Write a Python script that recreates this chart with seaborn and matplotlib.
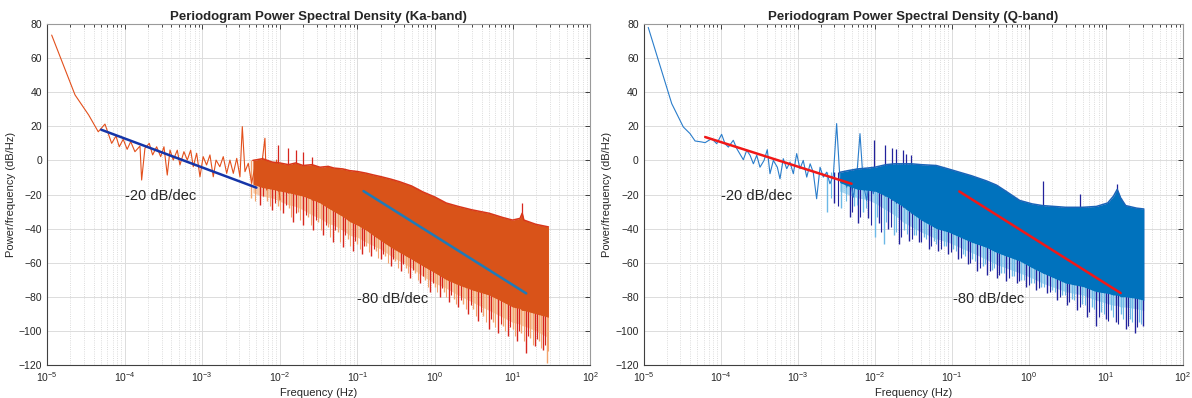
import numpy as np
import seaborn as sns
import matplotlib.pyplot as plt
from matplotlib.ticker import LogLocator, MultipleLocator, NullFormatter

# ---- Ka-band: low-frequency periodogram bins ----
ka_lf_freq = [1.15e-5, 2.3e-5, 3.45e-5, 4.58e-5, 5.59e-5, 6.82e-5, 7.75e-5, 8.55e-5, 9.6e-5,
              1.08e-4, 1.2e-4, 1.36e-4, 1.58e-4, 1.66e-4, 1.83e-4, 2.08e-4, 2.30e-4, 2.59e-4,
              2.92e-4, 3.22e-4, 3.55e-4, 3.85e-4, 4.24e-4, 4.78e-4, 5.17e-4, 5.82e-4, 6.43e-4,
              7.11e-4, 7.68e-4, 8.49e-4, 9.37e-4, 1.03e-3, 1.14e-3, 1.26e-3, 1.39e-3, 1.51e-3,
              1.69e-3, 1.87e-3, 2.07e-3, 2.28e-3, 2.52e-3, 2.79e-3, 3.07e-3, 3.29e-3, 3.56e-3,
              3.93e-3, 4.34e-3, 4.79e-3, 5.28e-3, 5.85e-3, 6.44e-3, 6.78e-3, 7.48e-3, 8.24e-3,
              9.12e-3, 1.006e-2]
ka_lf_psd = [73.5, 38.4, 26.6, 16.8, 21.3, 10.0, 14.3, 8.0, 12.4,
             6.5, 11.0, 5.1, 8.4, -11.5, 7.1, 10.0, 3.2, 8.0,
             2.2, 8.0, -8.6, 6.1, 0.2, 6.0, -2.7, 5.1, 0.2,
             6.0, -3.7, 4.2, -9.6, 2.2, -2.7, 3.2, -9.6, 0.2,
             -3.7, 2.2, -7.6, 0.2, -7.6, 1.2, -9.6, 19.8, -6.6,
             -1.7, -13.4, -3.7, -11.5, -2.7, 13.0, -17.4, -3.7, -15.4,
             0.2, -23.2]

# Ka-band dense part: top / bottom of the solid band, and the edge of the spiky fringe below it
ka_env_freq = [4.5e-3, 6e-3, 8e-3, 1e-2, 1.3e-2, 1.6e-2, 2e-2, 2.6e-2, 3.3e-2, 4.2e-2, 5e-2,
               6.5e-2, 8e-2, 0.1, 0.13, 0.16, 0.2, 0.27, 0.35, 0.5, 0.7, 1, 1.4, 2, 3, 5,
               7.5, 10, 12.5, 13.3, 14, 20, 29]
ka_env_upper = [0, 1, -1, -1.5, -2.5, -1.5, -3, -2.5, -4, -3.5, -4.5,
                -5, -6, -6.5, -7.5, -8.5, -9.5, -11, -12.5, -15, -18.5, -21.5, -25, -27, -29, -31,
                -33.5, -35, -34, -31, -35, -37.5, -39]
ka_env_lower = [-14, -16, -17, -18, -19, -20, -21, -23, -25, -28, -30,
                -33, -36, -38, -41, -44, -47, -51, -54, -58, -62, -66, -70, -73, -76, -79,
                -83, -86, -87, -88, -88, -90, -92]
ka_fringe = [-19, -21, -22, -24, -26, -27, -29, -32, -34, -37, -38,
             -41, -44, -45, -48, -50, -52, -56, -59, -63, -68, -72, -75, -79, -83, -88,
             -92, -95, -96, -97, -97, -100, -104]

# Ka-band downward spikes below the band (two interleaved sets)
ka_dip_freq = [4.2e-3, 5.5e-3, 6.8e-3, 8.0e-3, 9.5e-3, 1.1e-2, 1.3e-2, 1.5e-2, 1.7e-2, 2.0e-2,
               2.3e-2, 2.7e-2, 3.1e-2, 3.6e-2, 4.2e-2, 4.8e-2, 5.6e-2, 6.5e-2, 7.5e-2, 8.7e-2,
               0.1, 0.115, 0.13, 0.15, 0.175, 0.2, 0.23, 0.27, 0.31, 0.36,
               0.42, 0.48, 0.55, 0.65, 0.75, 0.87, 1.0, 1.15, 1.3, 1.5,
               1.75, 2.0, 2.3, 2.7, 3.1, 3.6, 4.2, 4.9, 5.6, 6.5,
               7.5, 8.7, 10, 11.5, 13, 15, 17, 19.5, 22, 25, 27.5]
ka_dip_psd = [-22, -26, -24, -29, -27, -31, -28, -36, -30, -38,
              -33, -41, -36, -44, -39, -48, -42, -51, -46, -53,
              -49, -55, -50, -56, -53, -58, -56, -62, -59, -65,
              -63, -69, -66, -72, -70, -77, -74, -80, -77, -83,
              -81, -86, -84, -90, -87, -94, -91, -99, -95, -101,
              -97, -103, -99, -106, -101, -113, -104, -109, -106, -111, -119]
ka_dip2_freq = [4.8e-3, 6.1e-3, 7.4e-3, 8.7e-3, 1.02e-2, 1.2e-2, 1.4e-2, 1.6e-2, 1.85e-2, 2.15e-2,
                2.5e-2, 2.9e-2, 3.35e-2, 3.9e-2, 4.5e-2, 5.2e-2, 6.0e-2, 7.0e-2, 8.1e-2, 9.3e-2,
                0.107, 0.122, 0.14, 0.162, 0.187, 0.215, 0.25, 0.29, 0.335, 0.39,
                0.45, 0.515, 0.6, 0.7, 0.81, 0.93, 1.07, 1.22, 1.4, 1.62,
                1.87, 2.15, 2.5, 2.9, 3.35, 3.9, 4.5, 5.25, 6.0, 7.0,
                8.1, 9.3, 10.7, 12.2, 14, 16, 18.2, 20.7, 23.5, 26, 28.5]
ka_dip2_psd = [-24, -21, -27, -25, -29, -26, -33, -31, -35, -32,
               -38, -35, -41, -38, -45, -41, -48, -44, -50, -47,
               -52, -50, -54, -52, -57, -55, -60, -58, -63, -61,
               -66, -64, -70, -68, -74, -72, -77, -75, -80, -79,
               -84, -82, -87, -85, -91, -89, -95, -93, -98, -96,
               -100, -98, -103, -100, -106, -103, -108, -105, -110, -108, -112]

# Ka-band upward spikes above the band
ka_peak_freq = [9.6e-3, 1.28e-2, 1.61e-2, 2.01e-2, 2.58e-2, 13.3]
ka_peak_psd = [9.0, 7.1, 6.1, 5.1, 2.2, -25]

# ---- Q-band ----
q_lf_freq = [1.15e-5, 2.32e-5, 3.28e-5, 4.01e-5, 4.66e-5, 5.69e-5, 6.28e-5, 7.67e-5, 8.9e-5,
             1.03e-4, 1.14e-4, 1.26e-4, 1.46e-4, 1.62e-4, 1.97e-4, 2.18e-4, 2.41e-4, 2.66e-4,
             2.94e-4, 3.24e-4, 3.66e-4, 4.03e-4, 4.37e-4, 4.83e-4, 5.44e-4, 5.89e-4, 6.5e-4,
             7.2e-4, 7.94e-4, 8.77e-4, 9.7e-4, 1.07e-3, 1.18e-3, 1.31e-3, 1.45e-3, 1.59e-3,
             1.76e-3, 1.95e-3, 2.15e-3, 2.38e-3, 2.62e-3, 2.9e-3, 3.2e-3, 3.54e-3, 3.9e-3,
             4.32e-3, 4.77e-3, 5.26e-3, 5.82e-3, 6.43e-3, 7.1e-3, 7.85e-3, 8.67e-3, 9.57e-3,
             1.06e-2]
q_lf_psd = [78, 33.3, 19.6, 15.7, 11.4, 10.8, 10.4, 12.8, 9.8,
            15.3, 9.8, 7.8, 11.8, 6.9, 0.4, 5.9, 3.0, -2.0,
            3.0, -4.0, 0.0, 6.3, -7.8, 0.0, -4.0, -10.8, 1.0,
            -4.9, -1.0, -7.8, 4.0, -4.9, 0.0, -9.8, -2.0, -6.9,
            -22.5, -4.0, -9.8, -6.9, -13.7, -8.8, 21.6, -11.8, -7.8,
            -15.7, -9.8, -21.6, -9.8, 15.7, -13.7, -23.5, -9.8, -19.6,
            -7.8]

q_env_freq = [3.5e-3, 4.5e-3, 6e-3, 8e-3, 1e-2, 1.4e-2, 1.8e-2, 2.3e-2, 3e-2, 4e-2, 6.3e-2,
              9e-2, 0.127, 0.18, 0.28, 0.38, 0.5, 0.76, 1.1, 1.5, 3, 5, 7.5, 10.5, 12.5,
              14, 15.5, 18, 25, 31]
q_env_upper = [-7, -6, -5, -4.5, -4, -2.5, -2, -2, -2, -2.5, -3,
               -5, -7, -9, -12, -14.5, -18, -23.5, -25.5, -26.5, -27.5, -27.5, -27, -25, -21,
               -17, -22, -26.5, -28, -28.5]
q_env_lower = [-13, -15, -17, -17.5, -18, -21, -24, -27, -31, -35, -40,
               -42, -45, -48, -51, -54, -56, -59, -63, -66, -72, -74, -77, -78, -79,
               -79, -80, -80, -81, -82]
q_fringe = [-18, -20, -22, -23, -25, -29, -32, -36, -39, -42, -46,
            -48, -51, -54, -58, -61, -63, -66, -69, -72, -77, -79, -82, -84, -85,
            -85, -86, -86, -87, -88]

q_dip_freq = [2.4e-3, 3.0e-3, 3.7e-3, 4.7e-3, 5.4e-3, 6.1e-3, 7.0e-3, 8.2e-3, 1.01e-2, 1.15e-2,
              1.3e-2, 1.5e-2, 1.75e-2, 2.05e-2, 2.4e-2, 2.8e-2, 3.2e-2, 3.7e-2, 4.3e-2, 5.0e-2,
              5.8e-2, 6.7e-2, 7.8e-2, 9.0e-2, 0.105, 0.12, 0.14, 0.16, 0.185, 0.215,
              0.25, 0.29, 0.33, 0.38, 0.44, 0.51, 0.6, 0.7, 0.8, 0.93,
              1.08, 1.25, 1.45, 1.7, 2.0, 2.3, 2.7, 3.1, 3.6, 4.2,
              4.9, 5.7, 6.6, 7.5, 8.7, 10, 11.5, 13.3, 15.5, 18,
              20.5, 23.7, 27, 30]
q_dip_psd = [-30, -25, -28, -33, -27, -37, -30, -34, -45, -37,
             -49, -40, -44, -49, -41, -47, -44, -48, -45, -52,
             -47, -53, -50, -55, -52, -58, -55, -61, -58, -65,
             -62, -67, -64, -69, -66, -71, -68, -72, -70, -74,
             -72, -76, -74, -78, -76, -82, -79, -85, -81, -88,
             -84, -92, -86, -97, -89, -93, -88, -95, -90, -99,
             -93, -101, -95, -97]
q_dip2_freq = [2.7e-3, 3.3e-3, 4.2e-3, 5.0e-3, 5.8e-3, 6.5e-3, 7.6e-3, 9.0e-3, 1.08e-2, 1.22e-2,
               1.4e-2, 1.62e-2, 1.9e-2, 2.2e-2, 2.6e-2, 3.0e-2, 3.45e-2, 4.0e-2, 4.65e-2, 5.4e-2,
               6.2e-2, 7.2e-2, 8.4e-2, 9.7e-2, 0.112, 0.13, 0.15, 0.172, 0.2, 0.23,
               0.27, 0.31, 0.355, 0.41, 0.475, 0.55, 0.65, 0.75, 0.86, 1.0,
               1.16, 1.35, 1.57, 1.85, 2.15, 2.5, 2.9, 3.35, 3.9, 4.55,
               5.3, 6.1, 7.0, 8.1, 9.3, 10.7, 12.4, 14.4, 16.7, 19.2,
               22, 25.3, 28.5]
q_dip2_psd = [-22, -27, -24, -30, -26, -33, -28, -38, -33, -42,
              -36, -39, -42, -45, -43, -46, -44, -48, -46, -50,
              -49, -52, -50, -54, -53, -57, -56, -60, -59, -63,
              -61, -65, -63, -67, -66, -69, -68, -71, -70, -73,
              -72, -75, -74, -77, -77, -80, -79, -83, -82, -86,
              -85, -89, -87, -92, -90, -94, -92, -96, -93, -97,
              -95, -98, -96]

q_peak_freq = [9.9e-3, 1.34e-2, 1.66e-2, 1.91e-2, 2.34e-2, 2.58e-2, 2.98e-2, 1.53, 4.6, 14]
q_peak_psd = [11.8, 8.8, 7.5, 6.9, 5.9, 4.0, 3.0, -11.8, -19.6, -14]

# slope guide lines and their labels
ka_slope20_f, ka_slope20_db = [5e-5, 5e-3], [18, -16]
ka_slope80_f, ka_slope80_db = [0.12, 15], [-18, -78]
q_slope20_f, q_slope20_db = [6.3e-5, 5e-3], [13.7, -13.7]
q_slope80_f, q_slope80_db = [0.125, 15.5], [-18.2, -77.8]

sns.set_theme(style="white")
plt.rcParams['font.family'] = ['Liberation Sans', 'DejaVu Sans']
plt.rcParams['mathtext.default'] = 'regular'

fig = plt.figure(figsize=(11.92, 3.98), dpi=100)
ax_ka = fig.add_axes([0.0394, 0.0829, 0.4557, 0.8568])
ax_q = fig.add_axes([0.5399, 0.0829, 0.4526, 0.8568])


def draw_panel(ax, lf_f, lf_db, env_f, env_up, env_lo, fringe, dips, dips2, peaks,
               main, line_c, edge_c, dip_cols, s20, s80, slope_c20, slope_c80, title,
               txt20, txt80):
    ax.set_xscale('log')
    ax.set_xlim(1e-5, 1e2)
    ax.set_ylim(-120, 80)

    lx = np.log10(env_f)
    # spiky fringe under the solid band
    ax.fill_between(env_f, fringe, env_lo, color=dip_cols[0], alpha=0.55, lw=0, zorder=2)
    for (df, ddb), lw in ((dips, 1.0), (dips2, 0.8)):
        tops = np.interp(np.log10(df), lx, env_up)
        cols = [dip_cols[i % len(dip_cols)] for i in range(len(df))]
        ax.vlines(df, ddb, tops, colors=cols, lw=lw, zorder=2)
    bots = np.interp(np.log10(peaks[0]), lx, env_lo)
    ax.vlines(peaks[0], bots, peaks[1], colors=dip_cols[-1], lw=0.9, zorder=2)

    sns.lineplot(x=lf_f, y=lf_db, ax=ax, color=line_c, lw=0.8, sort=False, zorder=2)

    ax.fill_between(env_f, env_lo, env_up, color=main, lw=0, zorder=3)
    ax.plot(env_f, env_up, color=edge_c, lw=1.1, zorder=3)

    ax.plot(s20[0], s20[1], color=slope_c20, lw=1.8, zorder=4)
    ax.plot(s80[0], s80[1], color=slope_c80, lw=1.8, zorder=4)
    ax.text(txt20[0], txt20[1], '-20 dB/dec', fontsize=10.5, va='center', ha='left', zorder=5)
    ax.text(txt80[0], txt80[1], '-80 dB/dec', fontsize=10.5, va='center', ha='left', zorder=5)

    ax.xaxis.set_major_locator(LogLocator(base=10, numticks=20))
    ax.xaxis.set_minor_locator(LogLocator(base=10, subs=np.arange(2, 10), numticks=20))
    ax.xaxis.set_minor_formatter(NullFormatter())
    ax.yaxis.set_major_locator(MultipleLocator(20))
    ax.grid(which='major', color='#dcdcdc', lw=0.7, zorder=0)
    ax.grid(which='minor', axis='x', color='#d0d0d0', ls=':', lw=0.6, zorder=0)
    ax.set_axisbelow(True)
    ax.tick_params(which='both', direction='in', top=True, right=True,
                   labelsize=7.5, colors='#262626', width=0.6)
    ax.tick_params(which='major', length=3.5)
    ax.tick_params(which='minor', length=2)
    for name, sp in ax.spines.items():
        sp.set_color('#404040' if name in ('left', 'bottom') else '#9a9a9a')
        sp.set_linewidth(0.8)

    ax.set_title(title, fontsize=9.5, fontweight='bold', pad=3)
    ax.set_xlabel('Frequency (Hz)', fontsize=8, labelpad=3)
    ax.set_ylabel('Power/frequency (dB/Hz)', fontsize=8, labelpad=2)


draw_panel(ax_ka, ka_lf_freq, ka_lf_psd, ka_env_freq, ka_env_upper, ka_env_lower, ka_fringe,
           (ka_dip_freq, ka_dip_psd), (ka_dip2_freq, ka_dip2_psd), (ka_peak_freq, ka_peak_psd),
           main='#D95319', line_c='#E3501C', edge_c='#D8361A',
           dip_cols=['#F2A46E', '#D7261E'],
           s20=(ka_slope20_f, ka_slope20_db), s80=(ka_slope80_f, ka_slope80_db),
           slope_c20='#1535A8', slope_c80='#1F7AB8',
           title='Periodogram Power Spectral Density (Ka-band)',
           txt20=(1.0e-4, -21), txt80=(0.098, -81.3))

draw_panel(ax_q, q_lf_freq, q_lf_psd, q_env_freq, q_env_upper, q_env_lower, q_fringe,
           (q_dip_freq, q_dip_psd), (q_dip2_freq, q_dip2_psd), (q_peak_freq, q_peak_psd),
           main='#0072BD', line_c='#2A7DCB', edge_c='#1A64B8',
           dip_cols=['#6CB8E6', '#22229C'],
           s20=(q_slope20_f, q_slope20_db), s80=(q_slope80_f, q_slope80_db),
           slope_c20='#F01818', slope_c80='#F01818',
           title='Periodogram Power Spectral Density (Q-band)',
           txt20=(1.0e-4, -20.6), txt80=(0.102, -81.2))

fig.savefig('out.png', dpi=100)
